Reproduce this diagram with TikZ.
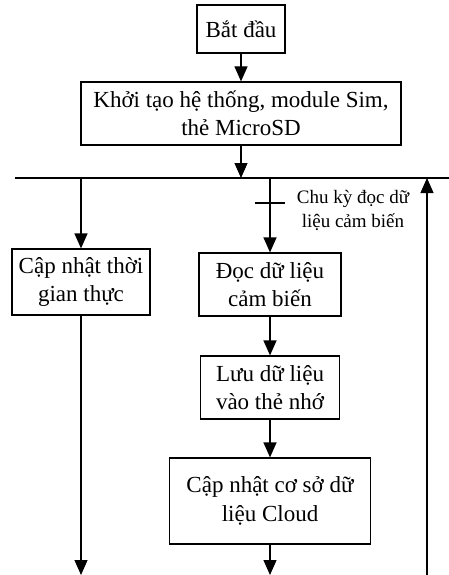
\documentclass[tikz,border=0pt]{standalone}
\usepackage{fontspec}
\setmainfont{Liberation Serif}
\usetikzlibrary{arrows.meta}
\begin{document}
\begin{tikzpicture}[x=1pt,y=-1pt,
  box/.style={draw,line width=1.2pt,inner sep=0pt,align=center,
    font=\fontsize{23}{28.5}\selectfont},
  lbl/.style={inner sep=0pt,align=center,font=\fontsize{19}{24}\selectfont},
  ln/.style={line width=1.2pt},
  arr/.style={line width=1.2pt,-{Triangle[length=15pt,width=13pt]}}]
\useasboundingbox (0,0) rectangle (449,575);
\node[box,minimum width=88pt,minimum height=48pt] (start) at (241,29) {Bắt đầu};
\node[box,minimum width=320pt,minimum height=63pt] (init) at (241,113.5) {Khởi tạo hệ thống, module Sim,\\thẻ MicroSD};
\node[box,minimum width=138pt,minimum height=66pt] (rtc) at (81,282) {Cập nhật thời\\gian thực};
\node[box,minimum width=142pt,minimum height=63pt] (doc) at (270,284.5) {Đọc dữ liệu\\cảm biến};
\node[box,minimum width=139pt,minimum height=63pt] (luu) at (270,387.5) {Lưu dữ liệu\\vào thẻ nhớ};
\node[box,minimum width=201pt,minimum height=86pt] (cloud) at (270,501) {Cập nhật cơ sở dữ\\liệu Cloud};
\node[lbl] (cyc) at (353,210) {Chu kỳ đọc dữ\\liệu cảm biến};
\coordinate (hl) at (15,178);
\coordinate (hr) at (449,178);
\coordinate (j0) at (241,178);
\coordinate (jl) at (81,178);
\coordinate (jm) at (270,178);
\coordinate (jr) at (427,178);
\coordinate (tl) at (255,203);
\coordinate (tr) at (285,203);
\coordinate (lb) at (81,575);
\coordinate (mb) at (270,575);
\coordinate (rb) at (427,575);
\draw[arr] (start) -- (init);
\draw[arr] (init) -- (j0);
\draw[ln] (hl) -- (hr);
\draw[arr] (jl) -- (rtc);
\draw[arr] (jm) -- (doc);
\draw[ln] (tl) -- (tr);
\draw[arr] (doc) -- (luu);
\draw[arr] (luu) -- (cloud);
\draw[arr] (cloud) -- (mb);
\draw[arr] (rtc) -- (lb);
\draw[arr] (rb) -- (jr);
\end{tikzpicture}
\end{document}
